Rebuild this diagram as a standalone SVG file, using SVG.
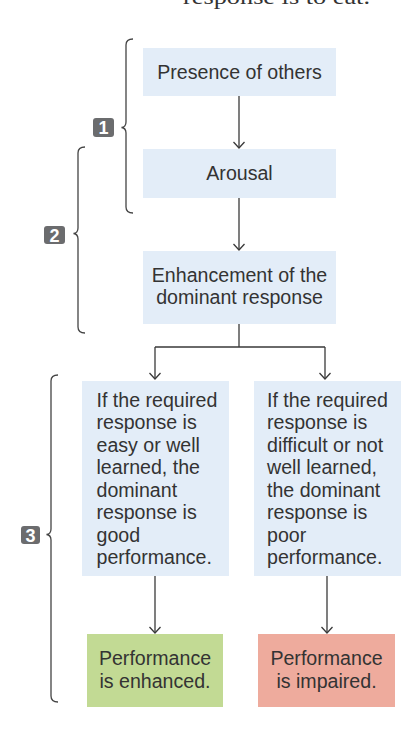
<svg xmlns="http://www.w3.org/2000/svg" width="416" height="734" viewBox="0 0 416 734">
<style>
.box{fill:#e3edf8}
.t{font-family:"Liberation Sans",Arial,sans-serif;font-size:19.6px;fill:#333}
.c{text-anchor:middle}
.ln{fill:none;stroke:#3a3a3a;stroke-width:1.3}
.br{fill:none;stroke:#444;stroke-width:1.3}
.badge{fill:#6b6c6e}
.bt{font-family:"Liberation Sans",Arial,sans-serif;font-size:18px;font-weight:bold;fill:#fff;text-anchor:middle}
</style>
<rect width="416" height="734" fill="#fff"/>
<text x="183" y="4" font-family="'Liberation Serif',serif" font-size="22" fill="#333" textLength="187" lengthAdjust="spacingAndGlyphs">response is to eat.</text>

<g id="connectors">
<path class="ln" d="M239,96 V148"/>
<path class="ln" d="M239,198 V250"/>
<path class="ln" d="M239,324 V347 M155,347 H325"/>
<path class="ln" d="M155,347 V379"/>
<path class="ln" d="M325,347 V379"/>
<path class="ln" d="M155,576 V633"/>
<path class="ln" d="M327,576 V633"/>
<g class="ln">
<path d="M233.5,142 L239,148 L244.5,142"/>
<path d="M233.5,244 L239,250 L244.5,244"/>
<path d="M149.5,373 L155,379 L160.5,373"/>
<path d="M319.5,373 L325,379 L330.5,373"/>
<path d="M149.5,627 L155,633 L160.5,627"/>
<path d="M321.5,627 L327,633 L332.5,627"/>
</g>
</g>

<g id="brace1">
<path class="br" d="M133,39 Q126,39 126,45 L126,122 Q126,127 121.5,127.5 Q126,128 126,133 L126,207 Q126,213 133,213"/>
<rect class="badge" x="93" y="118" width="21" height="19" rx="3"/>
<text class="bt" x="103.5" y="134">1</text>
</g>
<g id="brace2">
<path class="br" d="M85,147 Q78,147 78,153 L78,228 Q78,233 73.5,233.5 Q78,234 78,239 L78,327 Q78,333 85,333"/>
<rect class="badge" x="44" y="226" width="21" height="18" rx="3"/>
<text class="bt" x="54.5" y="241.5">2</text>
</g>
<g id="brace3">
<path class="br" d="M58,375 Q51,375 51,381 L51,529 Q51,534 46.5,534.5 Q51,535 51,540 L51,696 Q51,702 58,702"/>
<rect class="badge" x="21" y="526" width="19" height="18" rx="3"/>
<text class="bt" x="30.5" y="541.5">3</text>
</g>

<g id="presence">
<rect class="box" x="143" y="48" width="193" height="48"/>
<text class="t c" x="239.5" y="79">Presence of others</text>
</g>
<g id="arousal">
<rect class="box" x="143" y="149" width="193" height="49"/>
<text class="t c" x="239.5" y="180">Arousal</text>
</g>
<g id="enhancement">
<rect class="box" x="143" y="251" width="193" height="73"/>
<text class="t c" x="239.5" y="281.5">Enhancement of the</text>
<text class="t c" x="239.5" y="303.5">dominant response</text>
</g>
<g id="easy">
<rect class="box" x="82" y="381" width="147" height="195"/>
<text class="t" x="96.5">
<tspan x="96.5" y="406.5">If the required</tspan>
<tspan x="96.5" y="429">response is</tspan>
<tspan x="96.5" y="451.5">easy or well</tspan>
<tspan x="96.5" y="474">learned, the</tspan>
<tspan x="96.5" y="496.5">dominant</tspan>
<tspan x="96.5" y="519">response is</tspan>
<tspan x="96.5" y="541.5">good</tspan>
<tspan x="96.5" y="564">performance.</tspan>
</text>
</g>
<g id="difficult">
<rect class="box" x="254" y="381" width="147" height="195"/>
<text class="t" x="267">
<tspan x="267" y="406.5">If the required</tspan>
<tspan x="267" y="429">response is</tspan>
<tspan x="267" y="451.5">difficult or not</tspan>
<tspan x="267" y="474">well learned,</tspan>
<tspan x="267" y="496.5">the dominant</tspan>
<tspan x="267" y="519">response is</tspan>
<tspan x="267" y="541.5">poor</tspan>
<tspan x="267" y="564">performance.</tspan>
</text>
</g>
<g id="enhanced">
<rect x="87" y="634" width="136" height="73" fill="#c2da94"/>
<text class="t c" x="155" y="665">Performance</text>
<text class="t c" x="155" y="687.5">is enhanced.</text>
</g>
<g id="impaired">
<rect x="258" y="634" width="137" height="73" fill="#eeab9d"/>
<text class="t c" x="326.5" y="665">Performance</text>
<text class="t c" x="326.5" y="687.5">is impaired.</text>
</g>
</svg>
